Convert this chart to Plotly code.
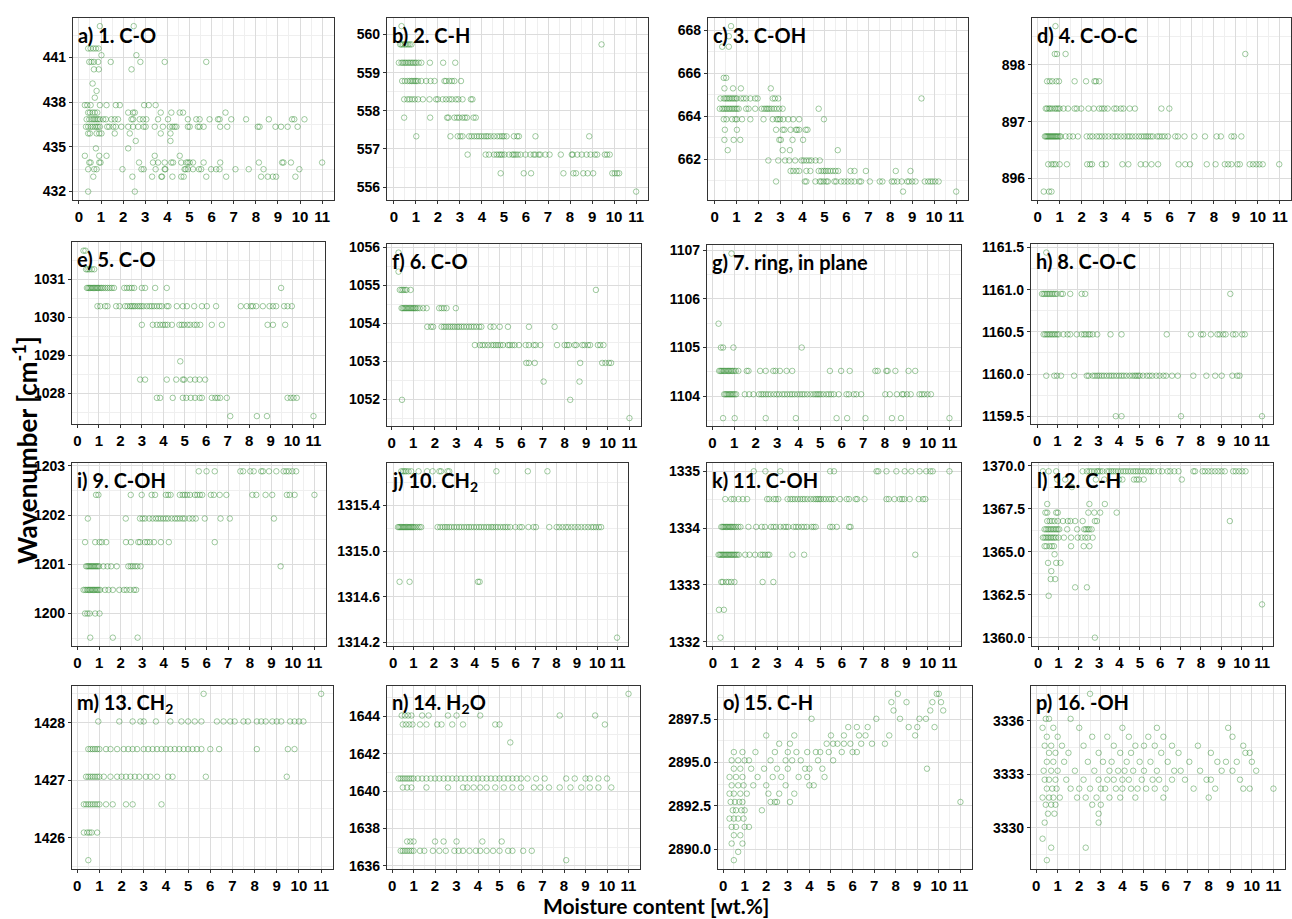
import plotly.graph_objects as go

# ---------------------------------------------------------------------------
# Peak positions (wavenumber, cm-1) versus moisture content (wt.%).
# Each panel: list of wavenumber levels and, for every level, the moisture
# contents of the samples whose peak sits at that level.
# ---------------------------------------------------------------------------

a_levels = [443.1, 441.6, 441.15, 440.7, 440.2, 439.25, 438.75, 438.3, 437.8, 437.3,
            436.85, 436.35, 435.9, 435.4, 434.9, 434.4, 433.95, 433.5, 433.0, 432.0]
a_rows = [
    [0.95, 2.48],
    [0.42, 0.53, 0.65, 0.77, 0.89],
    [1.02, 2.60],
    [0.47, 0.57, 0.68, 0.87, 1.44, 2.78, 3.88, 5.76],
    [0.68, 0.90, 2.38],
    [0.62],
    [0.80],
    [0.72],
    [0.27, 0.38, 0.53, 0.95, 1.25, 1.67, 1.85, 2.95, 3.16, 3.47],
    [0.42, 0.50, 0.62, 0.72, 0.83, 2.23, 2.45, 2.53, 3.70, 4.18, 4.56, 4.71, 6.63],
    [0.35, 0.47, 0.57, 0.65, 0.72, 0.80, 0.87, 0.95, 1.10, 1.22, 1.47, 1.62, 1.77, 2.38, 2.45,
     2.75, 2.90, 3.05, 3.58, 4.03, 4.93, 5.31, 5.46, 5.91, 6.29, 6.36, 6.89, 7.56, 8.59, 9.64,
     9.74, 10.2],
    [0.32, 0.42, 0.53, 0.62, 0.72, 0.80, 0.87, 0.95, 1.28, 1.37, 1.55, 1.67, 1.92, 2.23, 2.45,
     2.68, 2.93, 3.02, 3.43, 3.80, 4.11, 4.23, 4.33, 4.41, 4.93, 5.01, 5.38, 5.46, 5.64, 6.39,
     6.71, 8.09, 8.17, 8.89, 9.14, 9.44, 9.89],
    [0.42, 0.50, 0.80, 0.92, 1.02, 1.62, 2.30, 3.70, 4.14],
    [2.57, 4.14],
    [0.77, 2.23],
    [0.27, 0.92, 1.25, 3.43, 4.56],
    [0.47, 0.53, 0.92, 0.98, 2.72, 3.35, 3.58, 3.88, 4.18, 4.26, 4.63, 4.86, 4.93, 5.01, 5.16,
     5.64, 6.39, 8.14, 9.19, 9.25, 9.59, 11.0],
    [0.42, 0.69, 0.80, 1.97, 2.83, 2.93, 3.47, 3.88, 3.91, 4.78, 4.83, 4.93, 5.16, 5.43, 5.53,
     5.98, 6.21, 6.36, 7.08, 7.68, 8.35, 9.97],
    [0.65, 2.42, 3.31, 3.73, 3.76, 4.23, 4.63, 4.74, 5.76, 6.66, 8.24, 8.54, 8.77, 8.92, 9.79],
    [0.42, 2.53],
]

b_levels = [560.22, 559.74, 559.26, 558.78, 558.30, 557.82, 557.33, 556.85, 556.36, 555.88]
b_rows = [
    [0.35],
    [0.29, 0.35, 0.42, 0.50, 0.57, 0.65, 0.72, 0.80, 9.43],
    [0.23, 0.35, 0.42, 0.50, 0.57, 0.65, 0.72, 0.80, 0.87, 0.95, 1.02, 1.13, 1.25, 1.64, 2.24, 2.79],
    [0.38, 0.50, 0.62, 0.72, 0.80, 0.87, 0.95, 1.02, 1.10, 1.25, 1.47, 1.67, 1.85, 2.30, 2.37,
     2.52, 2.64, 2.75, 3.05],
    [0.47, 0.62, 0.72, 0.83, 0.95, 1.10, 1.32, 1.62, 1.92, 2.00, 2.22, 2.37, 2.52, 2.64, 2.82,
     2.93, 3.12, 3.50, 3.57],
    [0.47, 1.65, 2.42, 2.48, 2.75, 2.87, 2.97, 3.12, 3.23, 3.32, 3.62, 3.72],
    [1.02, 2.57, 2.90, 3.02, 3.12, 3.42, 3.53, 3.65, 3.77, 3.87, 3.98, 4.10, 4.20, 4.28, 4.40,
     4.55, 4.70, 4.82, 4.92, 5.00, 5.12, 5.45, 5.60, 5.68, 6.43, 8.87],
    [3.35, 4.17, 4.32, 4.55, 4.67, 4.77, 4.85, 4.92, 5.03, 5.23, 5.38, 5.45, 5.53, 5.63, 5.75,
     5.98, 6.20, 6.35, 6.43, 6.58, 6.65, 6.88, 7.07, 7.58, 8.08, 8.12, 8.33, 8.53, 8.75, 8.93,
     9.13, 9.23, 9.58, 9.68, 9.80],
    [4.85, 5.90, 6.23, 7.70, 8.15, 8.27, 8.60, 8.80, 9.05, 9.92, 10.03, 10.14, 10.23],
    [11.0],
]

c_levels = [668.2, 667.73, 667.24, 665.79, 665.3, 664.83, 664.35, 663.86, 663.37, 662.9,
            662.42, 661.94, 661.45, 660.96, 660.49]
c_rows = [
    [0.75],
    [0.65],
    [0.35, 0.65],
    [0.42, 0.53],
    [0.45, 0.84, 1.20, 2.56],
    [0.27, 0.42, 0.50, 0.57, 0.65, 0.72, 0.80, 0.87, 0.95, 1.02, 1.20, 1.32, 1.44, 1.63, 1.85,
     1.96, 2.65, 2.75, 2.90, 9.42],
    [0.24, 0.35, 0.42, 0.50, 0.57, 0.65, 0.72, 0.80, 0.87, 0.95, 1.02, 1.10, 1.44, 1.55, 1.85,
     2.15, 2.26, 2.35, 2.42, 2.50, 2.60, 2.71, 2.83, 2.95, 3.10, 4.74],
    [0.42, 0.54, 0.80, 0.95, 1.02, 1.25, 1.63, 2.23, 2.65, 2.83, 2.90, 2.98, 3.13, 3.36, 3.58,
     3.85, 4.98],
    [0.47, 1.02, 2.80, 3.10, 3.18, 3.46, 3.70, 3.76, 3.85, 4.15, 4.23],
    [0.45, 0.87, 1.17, 2.95, 3.02, 3.55, 4.03],
    [0.60, 3.10, 3.43, 5.61],
    [2.45, 2.90, 3.21, 3.40, 3.67, 3.96, 4.06, 4.18, 4.30, 4.41, 4.60, 4.79],
    [3.46, 3.58, 3.73, 3.85, 4.18, 4.36, 4.74, 4.86, 4.97, 5.06, 5.16, 5.27, 5.39, 5.51, 5.63,
     6.19, 6.37, 6.89, 8.25, 8.92],
    [2.80, 4.11, 4.18, 4.59, 4.79, 4.86, 4.97, 5.09, 5.16, 5.46, 5.54, 5.76, 5.91, 6.06, 6.22,
     6.37, 6.59, 6.67, 7.07, 7.52, 7.64, 8.07, 8.17, 8.32, 8.52, 8.77, 8.85, 9.00, 9.15, 9.57,
     9.72, 9.83, 9.93, 10.05, 10.20],
    [8.58, 11.0],
]

d_levels = [898.68, 898.19, 897.71, 897.23, 896.74, 896.25, 895.77]
d_rows = [
    [0.81],
    [0.78, 0.88, 1.27, 9.43],
    [0.43, 0.55, 0.67, 0.85, 0.97, 1.68, 2.20, 2.58, 2.65, 2.80],
    [0.37, 0.43, 0.52, 0.58, 0.67, 0.78, 0.85, 0.93, 1.00, 1.18, 1.38, 1.68, 1.78, 1.98, 2.31,
     2.55, 2.80, 2.92, 3.03, 3.18, 3.48, 3.58, 3.78, 3.90, 4.18, 4.42, 5.62, 5.98],
    [0.33, 0.38, 0.43, 0.48, 0.53, 0.58, 0.63, 0.68, 0.73, 0.78, 0.83, 0.88, 0.93, 1.00, 1.05,
     1.27, 1.45, 1.60, 1.83, 2.23, 2.38, 2.50, 2.68, 2.80, 2.92, 3.07, 3.22, 3.40, 3.52, 3.63,
     3.78, 3.93, 4.08, 4.18, 4.30, 4.45, 4.60, 4.72, 4.83, 4.93, 5.02, 5.13, 5.23, 5.43, 5.53,
     5.65, 5.77, 5.92, 6.25, 6.37, 6.67, 7.12, 7.60, 8.13, 8.32, 8.80, 8.92, 9.25],
    [0.48, 0.63, 0.73, 0.82, 1.00, 1.33, 2.25, 2.38, 2.47, 2.92, 3.10, 3.85, 4.12, 4.68, 4.90,
     5.17, 5.47, 6.40, 6.70, 6.92, 7.68, 8.08, 8.50, 8.65, 8.80, 9.07, 9.18, 9.63, 9.78, 9.93,
     10.07, 10.22, 10.97],
    [0.28, 0.52, 0.63],
]

e_levels = [1031.75, 1031.26, 1030.77, 1030.29, 1029.80, 1028.84, 1028.36, 1027.88, 1027.40]
e_rows = [
    [0.28, 0.37],
    [0.40, 0.47, 0.56, 0.67, 0.78],
    [0.44, 0.50, 0.56, 0.62, 0.68, 0.74, 0.80, 0.86, 0.92, 0.98, 1.05, 1.12, 1.20, 1.30, 1.40,
     1.50, 1.60, 1.70, 2.18, 2.30, 2.42, 2.53, 2.64, 3.00, 3.15, 3.62, 4.16, 9.49],
    [0.93, 1.06, 1.29, 1.40, 1.80, 1.96, 2.22, 2.33, 2.45, 2.53, 2.61, 2.69, 2.80, 2.89, 2.98,
     3.08, 3.23, 3.36, 3.46, 3.57, 3.70, 3.82, 3.93, 4.16, 4.24, 4.63, 4.91, 5.10, 5.44, 5.80,
     6.03, 6.46, 7.61, 7.89, 8.08, 8.17, 8.33, 8.64, 8.95, 9.11, 9.26, 9.63, 9.79, 9.99],
    [3.00, 3.51, 3.70, 3.85, 3.98, 4.09, 4.20, 4.40, 4.75, 4.86, 4.97, 5.13, 5.25, 5.44, 5.56,
     5.72, 6.26, 6.73, 8.86, 9.11, 9.68],
    [4.79],
    [2.92, 3.15, 4.16, 4.60, 4.91, 4.97, 5.25, 5.48, 5.69, 5.95],
    [3.70, 3.85, 4.44, 4.91, 5.07, 5.28, 5.48, 5.69, 5.80, 6.26, 6.42, 6.53, 6.65, 6.96, 9.79,
     9.94, 10.07, 10.22],
    [7.12, 8.36, 8.83, 11.0],
]

f_levels = [1055.86, 1055.36, 1054.88, 1054.40, 1053.91, 1053.43, 1052.96, 1052.47, 1051.99, 1051.51]
f_rows = [
    [0.32],
    [0.32],
    [0.38, 0.46, 0.54, 0.62, 0.69, 0.88, 9.45],
    [0.46, 0.52, 0.58, 0.64, 0.70, 0.76, 0.82, 0.88, 0.94, 1.00, 1.06, 1.12, 1.20, 1.30, 1.46,
     1.62, 2.20, 2.31, 2.42, 2.54, 2.97],
    [1.65, 1.82, 1.92, 2.31, 2.42, 2.51, 2.62, 2.72, 2.82, 2.92, 3.03, 3.12, 3.23, 3.34, 3.46,
     3.58, 3.69, 3.80, 3.92, 4.05, 4.15, 4.57, 4.72, 5.00, 5.38, 6.35, 7.54],
    [3.85, 4.08, 4.20, 4.31, 4.46, 4.62, 4.72, 4.82, 4.92, 5.03, 5.15, 5.38, 5.46, 5.58, 5.69,
     5.89, 6.20, 6.35, 6.57, 6.66, 6.88, 7.65, 8.00, 8.11, 8.20, 8.46, 8.54, 8.82, 8.92, 9.08,
     9.18, 9.54, 9.65, 9.80],
    [6.23, 6.35, 6.62, 8.72, 9.74, 9.89, 10.05, 10.15],
    [7.03, 8.69],
    [0.48, 8.26],
    [11.0],
]

g_levels = [1106.93, 1105.49, 1105.0, 1104.52, 1104.04, 1103.55]
g_rows = [
    [0.88],
    [0.28],
    [0.39, 0.49, 0.97, 4.14],
    [0.31, 0.37, 0.43, 0.49, 0.55, 0.62, 0.68, 0.74, 0.80, 0.86, 0.93, 1.00, 1.08, 1.20, 1.59,
     1.67, 2.21, 2.47, 2.82, 2.93, 3.13, 3.44, 3.70, 5.45, 5.97, 6.37, 7.56, 7.67, 8.07, 8.13,
     8.49, 9.10, 9.41],
    [0.54, 0.60, 0.66, 0.72, 0.78, 0.84, 0.90, 0.96, 1.03, 1.10, 1.50, 1.70, 1.90, 2.16, 2.27,
     2.36, 2.47, 2.58, 2.70, 2.85, 2.98, 3.09, 3.24, 3.35, 3.47, 3.60, 3.70, 3.81, 3.94, 4.06,
     4.17, 4.27, 4.40, 4.55, 4.68, 4.78, 4.86, 4.94, 5.02, 5.14, 5.29, 5.40, 5.51, 5.63, 5.86,
     6.22, 6.33, 6.56, 6.68, 6.90, 8.02, 8.23, 8.56, 8.80, 8.87, 9.03, 9.20, 9.61, 9.72, 9.83,
     9.98, 10.14],
    [0.49, 1.03, 2.47, 3.87, 5.76, 6.25, 7.10, 8.33, 8.75, 11.0],
]

h_levels = [1161.44, 1160.95, 1160.47, 1159.98, 1159.50]
h_rows = [
    [0.45],
    [0.24, 0.32, 0.40, 0.48, 0.56, 0.64, 0.72, 0.80, 0.88, 0.97, 1.17, 1.26, 1.62, 2.18, 2.35, 9.45],
    [0.32, 0.40, 0.48, 0.56, 0.64, 0.72, 0.80, 0.88, 0.97, 1.05, 1.29, 1.49, 1.62, 1.94, 2.18,
     2.30, 2.39, 2.51, 2.59, 2.72, 2.94, 3.59, 4.13, 6.34, 7.52, 8.01, 8.12, 8.50, 8.82, 8.93,
     9.10, 9.22, 9.58, 9.71, 10.03, 10.16],
    [0.45, 0.84, 0.97, 1.17, 1.81, 2.43, 2.52, 2.72, 2.83, 2.94, 3.04, 3.16, 3.27, 3.40, 3.53,
     3.64, 3.75, 3.88, 4.01, 4.13, 4.24, 4.37, 4.53, 4.66, 4.77, 4.85, 4.94, 5.02, 5.18, 5.37,
     5.50, 5.63, 5.83, 5.99, 6.18, 6.31, 6.60, 6.88, 7.64, 8.28, 8.71, 9.03, 9.55, 9.79, 9.90],
    [3.85, 4.13, 7.04, 11.0],
]

i_levels = [1202.89, 1202.41, 1201.93, 1201.45, 1200.96, 1200.48, 1200.0, 1199.51]
i_rows = [
    [5.63, 5.99, 6.37, 7.56, 7.69, 8.02, 8.18, 8.53, 8.61, 8.89, 9.23, 9.57, 9.69, 9.81, 9.97, 10.15],
    [0.86, 0.97, 2.47, 2.98, 3.44, 3.60, 4.10, 4.21, 4.32, 4.75, 4.88, 4.98, 5.09, 5.22, 5.45,
     5.56, 5.68, 5.79, 6.19, 6.33, 6.60, 6.91, 8.12, 8.30, 8.73, 9.04, 9.72, 9.85, 10.08, 11.0],
    [0.48, 2.24, 2.90, 3.02, 3.13, 3.33, 3.49, 3.64, 3.75, 3.86, 3.98, 4.10, 4.21, 4.37, 4.52,
     4.63, 4.75, 4.88, 4.98, 5.19, 5.34, 5.49, 5.91, 6.64, 7.07, 9.12],
    [0.35, 0.82, 1.02, 1.13, 1.33, 2.25, 2.48, 2.82, 2.90, 3.13, 3.24, 3.36, 3.55, 3.87, 4.24, 6.37],
    [0.40, 0.46, 0.52, 0.58, 0.64, 0.70, 0.76, 0.82, 0.88, 0.94, 1.00, 1.20, 1.39, 1.56, 1.82,
     2.36, 2.47, 2.56, 2.67, 2.78, 2.93, 9.43],
    [0.28, 0.36, 0.44, 0.50, 0.56, 0.62, 0.68, 0.74, 0.80, 0.86, 0.92, 0.98, 1.05, 1.28, 1.44,
     1.64, 1.94, 2.16, 2.28, 2.44, 2.62, 2.72],
    [0.35, 0.46, 0.56, 0.82, 1.02],
    [0.59, 1.64, 2.79],
]

j_levels = [1315.70, 1315.21, 1314.73, 1314.24]
j_rows = [
    [0.40, 0.49, 0.57, 0.65, 0.76, 0.89, 1.25, 1.67, 1.94, 2.27, 2.35, 2.67, 2.75, 5.06, 6.60, 7.56],
    [0.24, 0.30, 0.36, 0.42, 0.48, 0.54, 0.60, 0.66, 0.72, 0.78, 0.84, 0.90, 0.96, 1.02, 1.10,
     1.20, 1.30, 1.38, 2.18, 2.31, 2.43, 2.54, 2.64, 2.75, 2.86, 2.99, 3.12, 3.24, 3.35, 3.48,
     3.61, 3.72, 3.83, 3.96, 4.09, 4.21, 4.32, 4.45, 4.58, 4.69, 4.81, 4.90, 5.02, 5.13, 5.26,
     5.39, 5.50, 5.61, 5.74, 5.99, 6.20, 6.31, 6.63, 6.88, 7.00, 7.65, 8.01, 8.14, 8.30, 8.46,
     8.58, 8.74, 8.90, 9.06, 9.22, 9.39, 9.55, 9.71, 9.82, 9.94, 10.08, 10.19],
    [0.32, 0.81, 4.16, 4.24],
    [10.97],
]

k_levels = [1335.0, 1334.51, 1334.02, 1333.53, 1333.05, 1332.56, 1332.07]
k_rows = [
    [1.90, 2.44, 3.13, 5.45, 5.63, 7.61, 7.69, 8.07, 8.53, 8.92, 9.23, 9.61, 9.92, 10.11, 10.22, 11.0],
    [0.57, 0.85, 0.97, 1.19, 1.39, 1.59, 2.52, 2.62, 2.82, 2.93, 3.04, 3.47, 3.60, 3.70, 3.81,
     3.94, 4.06, 4.17, 4.27, 4.40, 4.55, 4.68, 4.78, 4.86, 4.94, 5.02, 5.14, 5.25, 5.40, 5.51,
     5.63, 5.91, 6.22, 6.33, 6.64, 6.71, 7.05, 8.07, 8.18, 8.44, 8.69, 8.80, 8.90, 9.15, 9.57,
     9.77, 9.88],
    [0.39, 0.45, 0.51, 0.57, 0.63, 0.69, 0.75, 0.81, 0.87, 0.93, 1.00, 1.08, 1.18, 1.28, 1.65,
     2.01, 2.27, 2.42, 2.70, 2.82, 2.93, 3.13, 3.29, 3.40, 3.50, 3.75, 3.86, 3.97, 4.12, 4.24,
     4.37, 4.58, 4.68, 4.78, 5.45, 5.56, 5.76, 6.33, 6.40],
    [0.26, 0.32, 0.38, 0.44, 0.50, 0.56, 0.62, 0.68, 0.74, 0.80, 0.86, 0.92, 0.98, 1.05, 1.12,
     1.20, 1.50, 1.70, 1.96, 2.21, 2.31, 2.42, 2.55, 2.62, 3.70, 4.24, 9.41],
    [0.39, 0.46, 0.62, 0.73, 0.85, 1.00, 2.31, 2.81],
    [0.28, 0.51],
    [0.35],
]

l_levels = [1369.68, 1369.20, 1368.76, 1367.78, 1367.28, 1366.79, 1366.31, 1365.83, 1365.33,
            1364.86, 1364.36, 1363.88, 1363.42, 1362.94, 1362.45, 1361.95, 1360.02]
l_rows = [
    [0.24, 0.52, 0.89, 2.19, 2.40, 2.52, 2.63, 2.76, 2.89, 2.95, 3.05, 3.17, 3.38, 3.49, 3.60,
     3.70, 3.81, 3.93, 4.06, 4.19, 4.30, 4.42, 4.55, 4.68, 4.79, 4.90, 5.03, 5.16, 5.28, 5.44,
     5.55, 5.68, 5.93, 6.09, 6.36, 6.49, 6.69, 6.90, 7.63, 7.71, 8.08, 8.20, 8.36, 8.52, 8.69,
     8.85, 9.01, 9.17, 9.58, 9.71, 9.87, 10.03, 10.19],
    [0.94, 1.33, 2.84, 3.25, 3.98, 4.14, 4.71, 4.84, 4.95, 5.19, 7.06],
    [1.66],
    [0.45, 2.52, 3.28],
    [0.36, 0.45, 0.89, 0.97, 2.47, 2.76, 3.05, 3.86],
    [0.45, 0.57, 0.68, 0.81, 0.97, 1.22, 1.46, 1.59, 1.82, 2.19, 2.79, 2.89, 9.42],
    [0.32, 0.40, 0.48, 0.56, 0.64, 0.72, 0.80, 0.88, 0.96, 1.04, 1.43, 1.92, 2.27, 2.35, 2.44,
     2.52, 2.63],
    [0.24, 0.32, 0.40, 0.48, 0.56, 0.64, 0.72, 0.80, 0.88, 1.00, 1.27, 1.62, 1.95, 2.14, 2.31,
     2.44, 2.68],
    [0.32, 0.41, 0.57, 0.68, 0.78, 1.62, 2.24, 2.52],
    [0.81],
    [0.49, 0.89, 1.10],
    [0.65],
    [0.62, 0.84],
    [1.82, 2.40],
    [0.52],
    [11.0],
    [2.79],
]

m_levels = [1428.50, 1428.02, 1427.54, 1427.06, 1426.58, 1426.09, 1425.61]
m_rows = [
    [5.70, 11.0],
    [0.95, 1.90, 2.50, 2.85, 3.00, 3.55, 4.20, 4.70, 5.00, 5.30, 5.60, 6.30, 6.60, 6.90, 7.10,
     7.50, 7.70, 8.10, 8.30, 8.50, 8.80, 9.00, 9.20, 9.60, 9.80, 10.00, 10.20],
    [0.50, 0.60, 0.70, 0.80, 0.90, 1.00, 1.30, 1.50, 1.80, 2.10, 2.30, 2.50, 2.70, 3.00, 3.20,
     3.40, 3.60, 3.80, 4.00, 4.20, 4.40, 4.60, 4.80, 5.00, 5.20, 5.40, 5.60, 6.00, 6.40, 8.10,
     9.50, 9.80],
    [0.40, 0.50, 0.60, 0.70, 0.80, 0.90, 1.00, 1.20, 1.50, 1.80, 2.00, 2.20, 2.40, 2.60, 2.80,
     3.10, 3.30, 3.60, 4.10, 4.30, 5.80, 9.45],
    [0.30, 0.40, 0.50, 0.60, 0.70, 0.80, 0.90, 1.00, 1.30, 1.60, 2.20, 2.50, 3.80],
    [0.30, 0.45, 0.55, 0.65, 0.90],
    [0.50],
]

n_levels = [1645.20, 1644.04, 1643.56, 1642.60, 1640.67, 1640.19, 1637.30, 1636.80, 1636.30]
n_rows = [
    [11.0],
    [0.45, 0.60, 0.75, 0.90, 1.40, 1.70, 2.60, 3.00, 4.10, 7.80, 9.45],
    [0.50, 0.65, 0.80, 0.95, 1.30, 1.60, 2.10, 2.30, 2.80, 3.30, 4.80, 5.00, 9.90],
    [5.50],
    [0.30, 0.40, 0.50, 0.60, 0.70, 0.80, 0.90, 1.00, 1.20, 1.40, 1.60, 1.80, 2.00, 2.20, 2.40,
     2.60, 2.80, 3.00, 3.20, 3.40, 3.60, 3.80, 4.00, 4.20, 4.40, 4.60, 4.80, 5.00, 5.20, 5.40,
     5.60, 5.80, 6.00, 6.30, 6.70, 7.10, 8.10, 8.50, 9.00, 9.20, 9.60, 10.00],
    [0.50, 0.70, 0.90, 1.60, 2.60, 3.30, 3.50, 3.80, 4.10, 4.40, 4.80, 5.20, 5.60, 6.00, 6.60,
     6.90, 7.30, 7.80, 8.30, 8.80, 9.20, 9.60, 10.20],
    [0.70, 0.85, 1.00, 2.00, 2.40, 3.00, 4.20, 5.10],
    [0.40, 0.50, 0.60, 0.70, 0.80, 0.90, 1.00, 1.30, 1.50, 1.90, 2.20, 2.50, 2.90, 3.10, 3.30,
     3.60, 3.90, 4.10, 4.40, 4.70, 5.00, 5.40, 5.60, 6.10, 6.50],
    [8.10],
]

o_levels = [2898.96, 2898.48, 2898.00, 2897.52, 2897.04, 2896.56, 2896.08, 2895.60, 2895.12,
            2894.64, 2894.16, 2893.68, 2893.20, 2892.72, 2892.24, 2891.76, 2891.28, 2890.80,
            2890.32, 2889.84, 2889.36]
o_rows = [
    [8.10, 9.90, 10.00],
    [7.80, 8.50, 9.70, 10.10],
    [7.90, 9.60, 10.20],
    [4.10, 7.10, 8.20, 9.10, 9.40],
    [5.80, 6.20, 6.70, 8.60, 9.00, 9.80],
    [2.00, 3.30, 5.00, 5.60, 6.30, 6.60, 7.70, 8.90],
    [2.60, 3.10, 4.80, 5.10, 5.30, 5.60, 5.90, 6.40, 6.90, 7.50],
    [0.50, 0.90, 1.50, 2.40, 3.00, 3.40, 3.90, 4.30, 4.50, 4.90, 5.50, 6.00, 6.20],
    [0.40, 0.70, 1.00, 1.20, 2.20, 2.90, 3.20, 3.60, 4.40, 5.10],
    [0.50, 0.80, 1.30, 1.90, 2.50, 3.00, 3.80, 4.00, 4.60, 9.45],
    [0.30, 0.60, 0.90, 1.60, 2.30, 2.70, 3.50, 3.90, 4.70],
    [0.40, 0.70, 0.95, 1.40, 2.00, 2.90, 4.00, 4.20],
    [0.30, 0.50, 0.80, 1.10, 2.10, 2.60, 3.30],
    [0.35, 0.55, 0.75, 0.90, 2.20, 2.40, 2.50, 3.10, 11.0],
    [0.45, 0.60, 0.85, 1.00, 1.80],
    [0.30, 0.50, 0.70, 0.95],
    [0.40, 0.60, 1.00, 1.20],
    [0.50, 0.80],
    [0.40, 0.90],
    [0.70],
    [0.50],
]

p_levels = [3337.5, 3336.1, 3335.6, 3335.1, 3334.6, 3334.2, 3333.7, 3333.2, 3332.7, 3332.2,
            3331.7, 3331.3, 3330.8, 3330.3, 3329.4, 3328.9, 3328.2]
p_rows = [
    [2.50],
    [0.45, 0.60, 1.60],
    [0.30, 0.80, 2.00, 4.00, 5.60, 8.90],
    [0.50, 1.00, 2.60, 3.30, 4.30, 5.20, 5.90, 9.10],
    [0.40, 0.70, 1.20, 2.20, 3.60, 4.60, 5.00, 5.50, 6.30, 7.50, 9.60],
    [0.60, 0.90, 1.50, 2.90, 3.90, 4.40, 5.80, 6.60, 8.10, 9.70, 9.90],
    [0.50, 0.80, 1.30, 2.40, 3.10, 3.50, 4.20, 4.80, 5.30, 6.10, 7.10, 8.40, 8.80, 9.30, 10.00],
    [0.35, 0.70, 1.00, 1.80, 2.70, 3.40, 3.80, 4.10, 4.50, 5.00, 5.60, 6.40, 6.70, 7.60, 8.60,
     9.10, 10.20],
    [0.40, 0.60, 0.90, 1.40, 2.20, 2.90, 3.30, 3.60, 4.00, 4.30, 4.90, 5.40, 5.70, 6.30, 6.90,
     7.90, 8.10, 9.45],
    [0.50, 0.75, 0.95, 1.60, 2.00, 2.50, 3.00, 3.20, 3.70, 4.00, 4.40, 4.70, 5.10, 5.50, 6.00,
     7.30, 8.30, 9.60, 9.90, 11.0],
    [0.30, 0.60, 0.80, 1.10, 1.90, 2.30, 2.80, 3.40, 3.90, 4.60, 5.90, 8.00],
    [0.45, 0.70, 0.90, 2.60, 3.00],
    [0.55, 0.85, 2.90],
    [0.40, 2.90],
    [0.30],
    [0.70, 2.30],
    [0.50],
]

panel_titles = [
    "a) 1. C-O", "b) 2. C-H", "c) 3. C-OH", "d) 4. C-O-C",
    "e) 5. C-O", "f) 6. C-O", "g) 7. ring, in plane", "h) 8. C-O-C",
    "i) 9. C-OH", "j) 10. CH<sub>2</sub>", "k) 11. C-OH", "l) 12. C-H",
    "m) 13. CH<sub>2</sub>", "n) 14. H<sub>2</sub>O", "o) 15. C-H", "p) 16. -OH",
]
moisture_ticks = list(range(0, 12))
# first labelled wavenumber and label step of every panel
y_tick_start = [432, 556, 662, 896, 1028, 1052, 1104, 1159.5,
                1200, 1314.2, 1332, 1360, 1426, 1636, 2890, 3330]
y_tick_step = [3, 1, 2, 1, 1, 1, 1, 0.5, 1, 0.4, 1, 2.5, 1, 2, 2.5, 3]
x_title = "Moisture content [wt.%]"
y_title = "Wavenumber [cm<sup>-1</sup>]"

panel_data = [
    (a_levels, a_rows), (b_levels, b_rows), (c_levels, c_rows), (d_levels, d_rows),
    (e_levels, e_rows), (f_levels, f_rows), (g_levels, g_rows), (h_levels, h_rows),
    (i_levels, i_rows), (j_levels, j_rows), (k_levels, k_rows), (l_levels, l_rows),
    (m_levels, m_rows), (n_levels, n_rows), (o_levels, o_rows), (p_levels, p_rows),
]

# --------------------------- layout of the grid ----------------------------
W, H = 1292, 919
# plot-area boxes in pixels: (left, right, top, bottom)
boxes = [
    (73, 334, 13, 197), (387, 648, 13, 197), (708, 968, 13, 197), (1032, 1291, 13, 197),
    (72, 325, 240, 424), (387, 641, 242, 426), (707, 961, 243, 426), (1031, 1273, 242, 424),
    (72, 326, 463, 648), (387, 628, 463, 648), (707, 961, 463, 648), (1032, 1273, 463, 648),
    (72, 333, 688, 873), (387, 640, 688, 873), (718, 972, 688, 873), (1031, 1285, 688, 873),
]
y_formats = ["d", "d", "d", "d", "d", "d", "d", ".1f", "d", ".1f", "d", ".1f", "d", "d", ".1f", "d"]

GREEN = "rgba(30,130,30,0.42)"
GRID = "#dcdcdc"
MINOR = "#efefef"
X_TICK_FONT = dict(family="Liberation Sans", size=15, color="black", weight="bold")
Y_TICK_FONT = dict(family="Liberation Sans", size=14, color="black", weight="bold")
TITLE_FONT = dict(family="Lato", size=20, color="black", weight="bold")


def flatten(levels, rows):
    xs, ys = [], []
    for level, row in zip(levels, rows):
        for x in row:
            xs.append(x)
            ys.append(level)
    return xs, ys


def expanded(lo, hi, frac=0.05):
    pad = (hi - lo) * frac
    return [lo - pad, hi + pad]


fig = go.Figure()
annotations = []

for k, ((levels, rows), box, start, step, fmt, title) in enumerate(
        zip(panel_data, boxes, y_tick_start, y_tick_step, y_formats, panel_titles), start=1):
    xs, ys = flatten(levels, rows)
    suffix = "" if k == 1 else str(k)
    fig.add_trace(go.Scatter(
        x=xs, y=ys, mode="markers", xaxis="x" + suffix, yaxis="y" + suffix,
        marker=dict(symbol="circle-open", size=5.5, color=GREEN, line=dict(width=1)),
        showlegend=False, hoverinfo="x+y",
    ))

    left, right, top, bottom = box
    xdom = [left / W, right / W]
    ydom = [1 - bottom / H, 1 - top / H]
    yr = expanded(min(ys), max(ys))
    xr = expanded(min(xs), max(xs))

    axis_common = dict(
        showline=True, mirror=True, linecolor="#333333", linewidth=1.2,
        ticks="outside", ticklen=3, tickwidth=1, tickcolor="#333333",
        showgrid=True, gridcolor=GRID, gridwidth=1, zeroline=False,
    )
    fig.update_layout(**{
        "xaxis" + suffix: dict(
            domain=xdom, anchor="y" + suffix, range=xr,
            tickmode="array", tickvals=moisture_ticks, tickfont=X_TICK_FONT,
            minor=dict(dtick=0.5, tick0=0, showgrid=True, gridcolor=MINOR, gridwidth=1, ticks=""),
            **axis_common),
        "yaxis" + suffix: dict(
            domain=ydom, anchor="x" + suffix, range=yr,
            tickmode="linear", tick0=start, dtick=step, tickformat=fmt, tickfont=Y_TICK_FONT,
            minor=dict(dtick=step / 2, tick0=start, showgrid=True, gridcolor=MINOR,
                       gridwidth=1, ticks=""),
            **axis_common),
    })

    annotations.append(dict(
        x=(left + 3) / W, y=1 - (top + 3) / H, xref="paper", yref="paper",
        xanchor="left", yanchor="top", text=title, showarrow=False, font=TITLE_FONT,
    ))

annotations.append(dict(
    x=25 / W, y=1 - 450 / H, xref="paper", yref="paper", text=y_title, textangle=-90,
    showarrow=False, xanchor="center", yanchor="middle",
    font=dict(family="Lato", size=26, color="black", weight="bold"),
))
annotations.append(dict(
    x=656 / W, y=1 - 910 / H, xref="paper", yref="paper", text=x_title,
    showarrow=False, xanchor="center", yanchor="middle",
    font=dict(family="Lato", size=21, color="black", weight="bold"),
))

fig.update_layout(
    width=W, height=H, autosize=False,
    margin=dict(l=0, r=0, t=0, b=0),
    paper_bgcolor="white", plot_bgcolor="white",
    annotations=annotations,
)

fig.write_html("out.html")
